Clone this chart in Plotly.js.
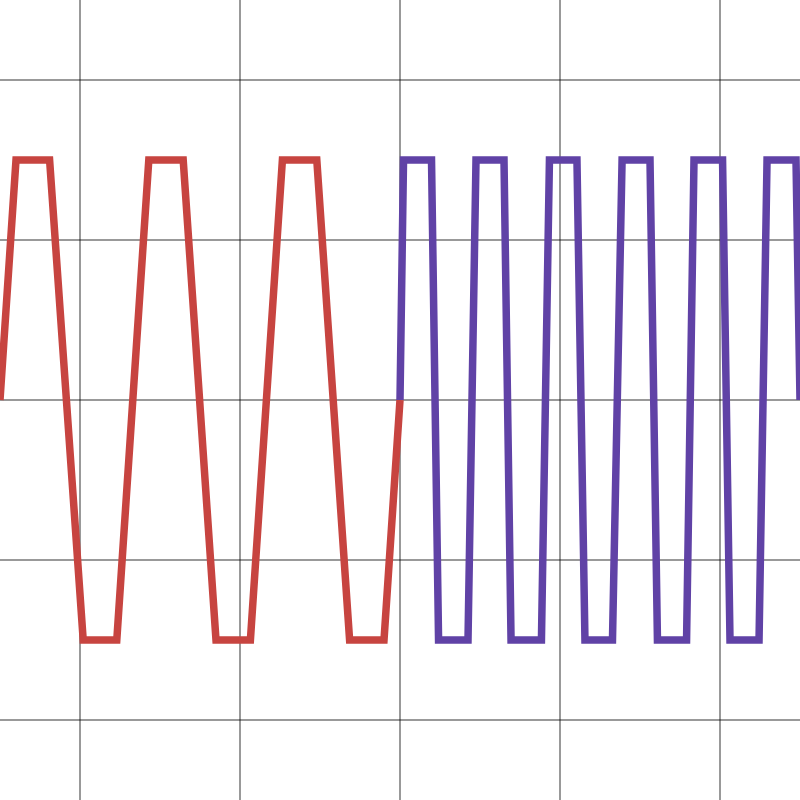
<!DOCTYPE html>
<html>
<head>
<meta charset="utf-8">
<script src="https://cdn.plot.ly/plotly-3.0.1.min.js"></script>
<style>html,body{margin:0;padding:0;background:#fff;}#chart{width:800px;height:800px;}</style>
</head>
<body>
<div id="chart"></div>
<script>
// Red wave vertices (x, y in graph units)
const redX = [-2.5, -2.40, -2.19, -1.98, -1.77, -1.57, -1.355, -1.15, -0.935, -0.735, -0.52, -0.315, -0.10, 0];
const redY = [0, 1.5, 1.5, -1.5, -1.5, 1.5, 1.5, -1.5, -1.5, 1.5, 1.5, -1.5, -1.5, 0];

// Purple wave vertices
const purpleX = [0, 0.022, 0.197, 0.241, 0.425, 0.475, 0.65, 0.694, 0.884, 0.934, 1.106, 1.156, 1.328, 1.388, 1.5625, 1.609, 1.791, 1.8375, 2.016, 2.0625, 2.244, 2.294, 2.475, 2.5];
const purpleY = [0, 1.5, 1.5, -1.5, -1.5, 1.5, 1.5, -1.5, -1.5, 1.5, 1.5, -1.5, -1.5, 1.5, 1.5, -1.5, -1.5, 1.5, 1.5, -1.5, -1.5, 1.5, 1.5, 0];

const traces = [
  {x: redX, y: redY, mode: 'lines', line: {color: '#c74440', width: 7.5}, hoverinfo: 'skip'},
  {x: purpleX, y: purpleY, mode: 'lines', line: {color: '#6042a6', width: 7.5}, hoverinfo: 'skip'}
];

const axisCommon = {
  range: [-2.5, 2.5],
  tick0: 0, dtick: 1,
  showticklabels: false,
  ticks: '',
  zeroline: false,
  showline: false,
  showgrid: true,
  gridcolor: 'rgba(0,0,0,0.4)',
  gridwidth: 1.5,
  fixedrange: true
};

const layout = {
  width: 800, height: 800,
  margin: {l: 0, r: 0, t: 0, b: 0, pad: 0},
  paper_bgcolor: '#ffffff',
  plot_bgcolor: '#ffffff',
  showlegend: false,
  xaxis: Object.assign({}, axisCommon),
  yaxis: Object.assign({}, axisCommon)
};

Plotly.newPlot('chart', traces, layout, {staticPlot: true, displayModeBar: false});
</script>
</body>
</html>
